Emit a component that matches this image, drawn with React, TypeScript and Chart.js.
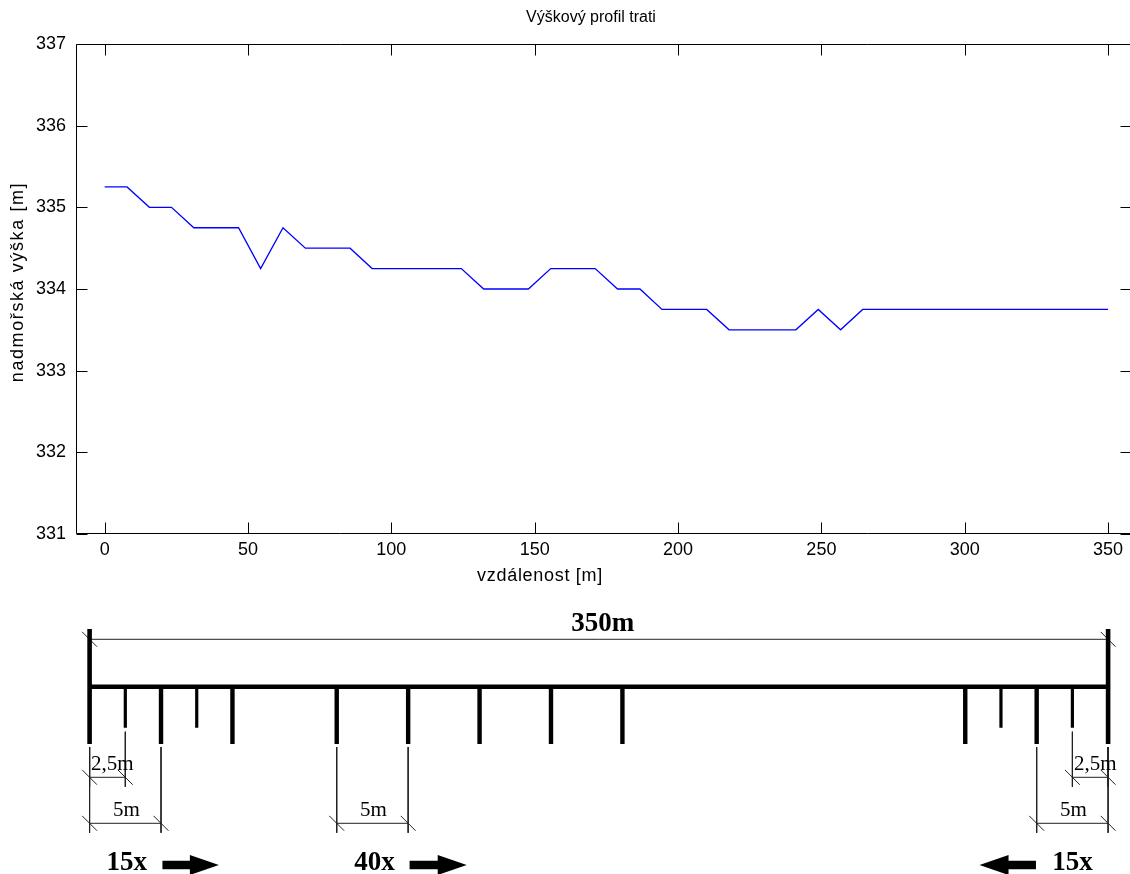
import React, { useEffect, useRef } from "react";
import { Chart, registerables } from "chart.js";

Chart.register(...registerables);

// ---------------- Elevation profile data ----------------
const distance = [0, 7.8, 15.6, 23.3, 31.1, 46.7, 54.4, 62.2, 70.0, 85.6, 93.3, 124.4, 132.2, 147.8, 155.6, 171.1, 178.9, 186.7, 194.4, 210.0, 217.8, 241.1, 248.9, 256.7, 264.4, 350];
const elevation = [335.25, 335.25, 335.0, 335.0, 334.75, 334.75, 334.25, 334.75, 334.5, 334.5, 334.25, 334.25, 334.0, 334.0, 334.25, 334.25, 334.0, 334.0, 333.75, 333.75, 333.5, 333.5, 333.75, 333.5, 333.75, 333.75];
const xTickValues = [0, 50, 100, 150, 200, 250, 300, 350];
const yTickValues = [331, 332, 333, 334, 335, 336, 337];
const chartTitle = "Výškový profil trati";
const xAxisTitle = "vzdálenost [m]";
const yAxisTitle = "nadmořská výška [m]";

// ---------------- Track schematic data (schematic units, not to scale) ----------------
const trackLength = 71.3;
const endBars = [0, 71.3];
const longTicks = [5, 10, 17.3, 22.3, 27.3, 32.3, 37.3, 61.3, 66.3];
const shortTicks = [2.5, 7.5, 63.8, 68.8];
const dimFrom = [0, 0, 0, 17.3, 66.3, 68.8];
const dimTo = [71.3, 2.5, 5, 22.3, 71.3, 71.3];
const dimLabels = ["350m", "2,5m", "5m", "5m", "5m", "2,5m"];
const dimRows = ["top", "short", "long", "long", "long", "short"];
const arrowLabels = ["15x", "40x", "15x"];
const arrowLabelAt = [2.6, 19.95, 68.8];
const arrowTail = [5.1, 22.4, 66.25];
const arrowTip = [9.05, 26.4, 62.3];

// layout rows of the schematic (canvas pixels from its top)
const ROW = {
  barTop: 29,
  topDim: 39.3,
  rail: 86.7,
  shortEnd: 127.7,
  longEnd: 144,
  shortDim: 177.3,
  longDim: 223.3,
  topLabel: 24,
  shortLabel: 164,
  longLabel: 210,
  arrows: 265,
};

const SANS = "'Liberation Sans', Arial, sans-serif";
const SERIF = "'Liberation Serif', 'Times New Roman', serif";
const FS = 18;

const insideTicks = {
  id: "insideTicks",
  afterDraw(chart: any) {
    const { ctx, chartArea: a, scales } = chart;
    const x = scales.x;
    const y = scales.y;
    const L = 11;
    const sn = (v: number) => Math.round(v) + 0.5;
    ctx.save();
    ctx.strokeStyle = "#000";
    ctx.lineWidth = 1;
    const left = sn(a.left), right = sn(a.right), top = sn(a.top), bottom = sn(a.bottom - 1);
    ctx.beginPath();
    ctx.rect(left, top, right - left, bottom - top);
    xTickValues.forEach((v) => {
      const px = sn(x.getPixelForValue(v));
      ctx.moveTo(px, bottom);
      ctx.lineTo(px, bottom - L);
      ctx.moveTo(px, top);
      ctx.lineTo(px, top + L);
    });
    yTickValues.forEach((v) => {
      const py = sn(y.getPixelForValue(v));
      ctx.moveTo(left, py);
      ctx.lineTo(left + L, py);
      ctx.moveTo(right, py);
      ctx.lineTo(right - L, py);
    });
    ctx.stroke();

    // title and axis labels (positioned as in the original figure)
    const a0 = a.left;
    ctx.fillStyle = "#000";
    ctx.textAlign = "center";
    ctx.textBaseline = "middle";
    ctx.font = `16px ${SANS}`;
    ctx.fillText(chartTitle, a0 + 515, a.top - 26);
    ctx.font = `${FS}px ${SANS}`;
    (ctx as any).letterSpacing = "0.7px";
    ctx.fillText(xAxisTitle, a0 + 464, a.bottom + 42);
    (ctx as any).letterSpacing = "1.6px";
    ctx.translate(18, (a.top + a.bottom) / 2 - 7);
    ctx.rotate(-Math.PI / 2);
    ctx.fillText(yAxisTitle, 0, 0);
    ctx.restore();
  },
};

function seg(x1: number, y1: number, x2: number, y2: number, width: number, color: string) {
  return {
    type: "line" as const,
    data: [
      { x: x1, y: y1 },
      { x: x2, y: y2 },
    ],
    borderColor: color,
    borderWidth: width,
    borderCapStyle: "butt" as const,
    pointRadius: 0,
    tension: 0,
    clip: false as any,
  };
}

function dimY(row: string) {
  return row === "top" ? ROW.topDim : row === "short" ? ROW.shortDim : ROW.longDim;
}

function buildSchematicDatasets() {
  const ds: any[] = [];
  const heavy = "#000";
  const thin = "#222";
  ds.push(seg(0, ROW.rail, trackLength, ROW.rail, 4.6, heavy));
  endBars.forEach((v) => ds.push(seg(v, ROW.barTop, v, ROW.longEnd, 4.6, heavy)));
  longTicks.forEach((v) => ds.push(seg(v, ROW.rail, v, ROW.longEnd, 4.4, heavy)));
  shortTicks.forEach((v) => ds.push(seg(v, ROW.rail, v, ROW.shortEnd, 3.2, heavy)));
  const slashPts: any[] = [];
  dimFrom.forEach((f, i) => {
    const t = dimTo[i];
    const row = dimRows[i];
    const yy = dimY(row);
    ds.push(seg(f, yy, t, yy, 1, thin));
    slashPts.push({ x: f, y: yy }, { x: t, y: yy });
    if (row !== "top") {
      [f, t].forEach((e) => {
        const isShort = shortTicks.includes(e);
        const start = isShort ? ROW.shortEnd + 4 : ROW.longEnd + 3;
        ds.push(seg(e, start, e, yy + 9.5, 1, thin));
      });
    }
  });
  ds.push({
    type: "scatter" as const,
    data: slashPts,
    pointStyle: "line",
    pointRotation: 45,
    pointRadius: 10.5,
    pointBorderWidth: 1,
    borderColor: thin,
    pointBorderColor: thin,
    clip: false as any,
  });
  return ds;
}

const schematicText = {
  id: "schematicText",
  afterDatasetsDraw(chart: any) {
    const { ctx, scales } = chart;
    const x = scales.x;
    ctx.save();
    ctx.fillStyle = "#000";
    ctx.textBaseline = "middle";
    dimLabels.forEach((t, i) => {
      const row = dimRows[i];
      const f = x.getPixelForValue(dimFrom[i]);
      const e = x.getPixelForValue(dimTo[i]);
      if (row === "top") {
        ctx.font = `bold 27px ${SERIF}`;
        ctx.textAlign = "center";
        ctx.fillText(t, (f + e) / 2 + 4, ROW.topLabel);
      } else if (row === "short") {
        ctx.font = `21px ${SERIF}`;
        ctx.textAlign = "left";
        ctx.fillText(t, f + 1.5, ROW.shortLabel);
      } else {
        ctx.font = `21px ${SERIF}`;
        ctx.textAlign = "center";
        ctx.fillText(t, (f + e) / 2 + 1, ROW.longLabel);
      }
    });
    arrowLabels.forEach((t, i) => {
      ctx.font = `bold 27px ${SERIF}`;
      ctx.textAlign = "center";
      ctx.fillText(t, x.getPixelForValue(arrowLabelAt[i]), ROW.arrows - 2);
      const tail = x.getPixelForValue(arrowTail[i]);
      const tip = x.getPixelForValue(arrowTip[i]);
      const dir = Math.sign(tip - tail);
      const base = tip - dir * 29;
      const cy = ROW.arrows;
      ctx.beginPath();
      ctx.moveTo(tail, cy - 4.3);
      ctx.lineTo(base, cy - 4.3);
      ctx.lineTo(base, cy - 10);
      ctx.lineTo(tip, cy);
      ctx.lineTo(base, cy + 10);
      ctx.lineTo(base, cy + 4.3);
      ctx.lineTo(tail, cy + 4.3);
      ctx.closePath();
      ctx.fill();
    });
    ctx.restore();
  },
};

export default function App() {
  const profileRef = useRef<HTMLCanvasElement>(null);
  const schemeRef = useRef<HTMLCanvasElement>(null);

  useEffect(() => {
    if (!profileRef.current || !schemeRef.current) return;
    const font = { family: SANS, size: FS, weight: "normal" as const };
    const profile = new Chart(profileRef.current, {
      type: "line",
      data: {
        datasets: [
          {
            data: distance.map((d, i) => ({ x: d, y: elevation[i] })),
            borderColor: "#0000ff",
            borderWidth: 1.3,
            pointRadius: 0,
            tension: 0,
            fill: false,
          },
        ],
      },
      options: {
        responsive: false,
        animation: false,
        events: [],
        layout: { autoPadding: false, padding: { left: 0, right: 9, top: 44, bottom: 0 } },
        plugins: {
          legend: { display: false },
          tooltip: { enabled: false },
          title: { display: false },
        },
        scales: {
          x: {
            type: "linear",
            min: -10,
            max: 358,
            afterBuildTicks: (s: any) => {
              s.ticks = xTickValues.map((v) => ({ value: v }));
            },
            afterFit: (s: any) => {
              s.height = 66;
            },
            grid: { display: false, drawTicks: false },
            border: { display: false },
            ticks: {
              color: "#000",
              font,
              padding: 5.2,
              maxRotation: 0,
              autoSkip: false,
              callback: (v: any) => String(v),
            },
            title: { display: false, text: xAxisTitle },
          },
          y: {
            type: "linear",
            min: 331,
            max: 337,
            afterBuildTicks: (s: any) => {
              s.ticks = yTickValues.map((v) => ({ value: v }));
            },
            afterFit: (s: any) => {
              s.width = 76;
            },
            grid: { display: false, drawTicks: false },
            border: { display: false },
            ticks: {
              color: "#000",
              font,
              padding: 10,
              autoSkip: false,
              callback: (v: any) => String(v),
            },
            title: { display: false, text: yAxisTitle },
          },
        },
      },
      plugins: [insideTicks],
    });

    const scheme = new Chart(schemeRef.current, {
      type: "line",
      data: { datasets: buildSchematicDatasets() },
      options: {
        responsive: false,
        animation: false,
        events: [],
        layout: { autoPadding: false, padding: { left: 89.6, right: 1130 - 1108.1, top: 0, bottom: 0 } },
        plugins: { legend: { display: false }, tooltip: { enabled: false } },
        scales: {
          x: { type: "linear", display: false, min: 0, max: trackLength },
          y: { type: "linear", display: false, min: 0, max: 274, reverse: true },
        },
      },
      plugins: [schematicText],
    });

    return () => {
      profile.destroy();
      scheme.destroy();
    };
  }, []);

  return (
    <div
      style={{
        position: "absolute",
        left: 0,
        top: 0,
        width: 1130,
        height: 874,
        overflow: "hidden",
        background: "#fff",
      }}
    >
      <canvas ref={profileRef} width={1140} height={600} style={{ position: "absolute", left: 0, top: 0 }} />
      <canvas ref={schemeRef} width={1130} height={274} style={{ position: "absolute", left: 0, top: 600 }} />
    </div>
  );
}
